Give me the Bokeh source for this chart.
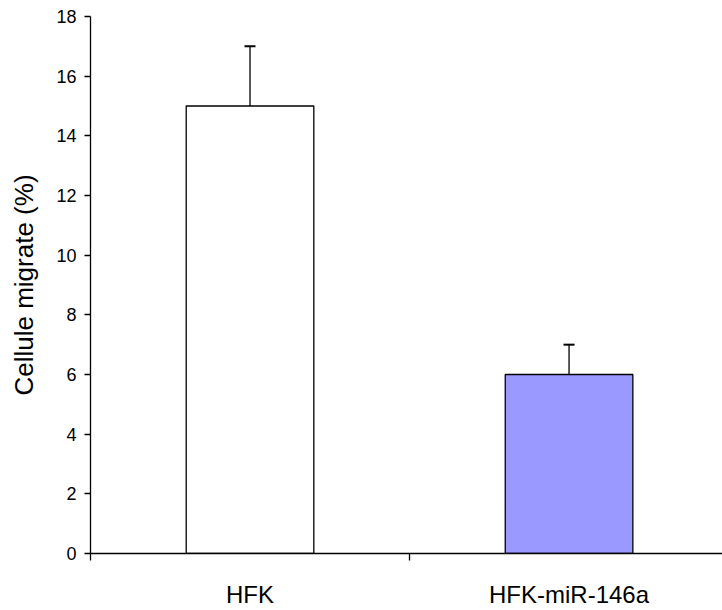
from bokeh.plotting import figure
from bokeh.models import Range1d, FixedTicker, Whisker, ColumnDataSource, TeeHead
from bokeh.embed import file_html
from bokeh.resources import INLINE

# Migration data
categories = ["HFK", "HFK-miR-146a"]
values = [15, 6]
errors = [2, 1]
colors = ["#FFFFFF", "#9999FF"]
y_ticks = [0, 2, 4, 6, 8, 10, 12, 14, 16, 18]

FONT = "Liberation Sans"

# bar centres sit in the middle of each category slot
x_centres = [i + 0.5 for i in range(len(categories))]
source = ColumnDataSource(dict(
    x=x_centres,
    top=values,
    upper=[v + e for v, e in zip(values, errors)],
    color=colors,
))

p = figure(
    width=722, height=610,
    x_range=Range1d(0, 1.981), y_range=Range1d(0, 18),
    output_backend="svg", toolbar_location=None,
    min_border_left=90, min_border_right=0,
    min_border_top=16, min_border_bottom=51,
)
p.outline_line_color = None
p.grid.visible = False
p.background_fill_color = "white"
p.border_fill_color = "white"

p.vbar(x="x", top="top", bottom=0, width=0.4, source=source,
       fill_color="color", line_color="black", line_width=1.3)

err = Whisker(base="x", upper="upper", lower="top", source=source,
              line_color="black", line_width=1.3,
              upper_head=TeeHead(size=11, line_color="black", line_width=2),
              lower_head=None)
p.add_layout(err)

# y axis
ya = p.yaxis[0]
ya.ticker = FixedTicker(ticks=y_ticks, minor_ticks=[])
ya.axis_label = "Cellule migrate (%)"
ya.axis_label_text_font = FONT
ya.axis_label_text_font_size = "26px"
ya.axis_label_text_font_style = "normal"
ya.axis_label_text_color = "black"
ya.axis_label_standoff = 14
ya.major_label_text_font = FONT
ya.major_label_text_font_size = "18px"
ya.major_label_text_color = "black"
ya.major_tick_out = 6
ya.major_tick_in = 0
ya.major_label_standoff = 8
ya.axis_line_color = "black"
ya.major_tick_line_color = "black"
ya.axis_line_width = 1.3
ya.major_tick_line_width = 1.3

# x axis: labels at slot centres, tick marks at slot boundaries
xa = p.xaxis[0]
xa.ticker = FixedTicker(ticks=x_centres, minor_ticks=[0, 1, 2])
xa.major_label_overrides = {x: c for x, c in zip(x_centres, categories)}
xa.major_label_text_font = FONT
xa.major_label_text_font_size = "24px"
xa.major_label_text_color = "black"
xa.major_tick_line_color = None
xa.major_tick_out = 0
xa.major_tick_in = 0
xa.major_label_standoff = 20
xa.minor_tick_out = 7
xa.minor_tick_in = 0
xa.minor_tick_line_color = "black"
xa.minor_tick_line_width = 1.3
xa.axis_line_color = "black"
xa.axis_line_width = 1.3

open("out.html", "w").write(file_html(p, INLINE))
